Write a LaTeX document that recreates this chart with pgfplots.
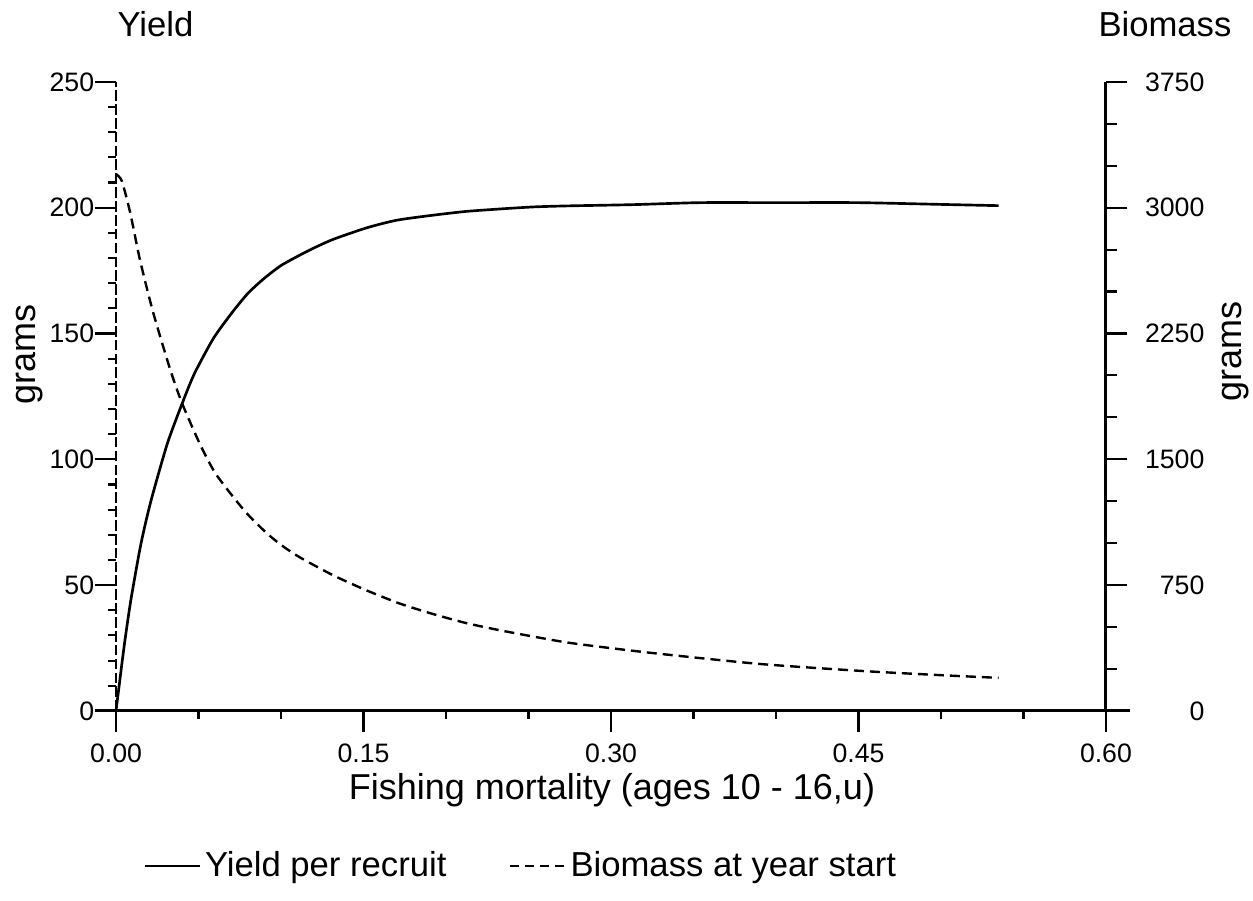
\documentclass[border=0pt]{standalone}
\usepackage{pgfplots}
\pgfplotsset{compat=1.18}
\usepackage{fontspec}
\setmainfont{Liberation Sans}

\pgfplotstableread{
F Y
0 0
0.005 26
0.009 44
0.015 66
0.021 83
0.031 106
0.040 122
0.0475 134
0.059 148
0.070 158
0.080 166
0.090 172
0.100 177
0.111 181
0.120 184
0.132 187.5
0.152 192
0.170 195
0.192 197
0.212 198.5
0.233 199.5
0.253 200.3
0.273 200.7
0.313 201.2
0.354 202
0.400 202
0.450 202
0.500 201.3
0.535 200.8
}\yieldtab

\pgfplotstableread{
F B
0 3200
0.0035 3160
0.0085 2975
0.0145 2690
0.0224 2380
0.0327 2040
0.040 1835
0.0509 1590
0.060 1420
0.0711 1275
0.080 1170
0.0913 1060
0.1007 985
0.1115 915
0.1317 808
0.152 718
0.172 640
0.192 578
0.2125 523
0.233 480
0.253 443
0.272 410
0.291 385
0.327 343
0.390 280
0.454 237
0.500 213
0.535 197
}\biotab

\begin{document}
\begin{tikzpicture}
\useasboundingbox (-43.5pt,-71.25pt) rectangle (426.4pt,266.6pt);
\begin{axis}[
  at={(0pt,0pt)}, anchor=south west,
  scale only axis, width=371.25pt, height=235.9pt,
  xmin=0, xmax=0.6, ymin=0, ymax=250,
  axis x line*=bottom, axis y line*=left,
  x axis line style={-, line width=1.1pt, shorten <=-8pt, shorten >=-9pt},
  y axis line style={-, line width=0.7pt, dash pattern=on 4pt off 1.2pt},
  xtick={0,0.15,0.3,0.45,0.6},
  xticklabels={0.00,0.15,0.30,0.45,0.60},
  minor x tick num=2,
  ytick={0,50,...,250},
  minor y tick num=4,
  tick align=outside,
  major tick length=8pt, minor tick length=3pt,
  every tick/.style={black, line width=0.8pt},
  tick label style={font=\fontsize{10}{12}\selectfont},
  yticklabel style={inner xsep=0pt},
  xticklabel style={yshift=-1pt},
  /pgf/number format/assume math mode=true,
  /pgf/number format/1000 sep={},
  legend columns=2,
  legend style={at={(0.0272,-0.2464)}, anchor=west, draw=none, fill=none,
    inner sep=0pt, font=\fontsize{13}{15}\selectfont,
    nodes={inner sep=1.5pt},
    /tikz/every even column/.append style={column sep=22pt}},
  legend cell align=left,
  legend image code/.code={\draw[#1] (0pt,0pt) -- (20.6pt,0pt);},
]
\addplot[black, line width=1pt, smooth, tension=0.4] table[x=F, y=Y] {\yieldtab};
\addlegendentry{Yield per recruit}
\addlegendimage{black, line width=0.9pt, dash pattern=on 3.4pt off 2.2pt}
\addlegendentry{Biomass at year start}
\end{axis}
\begin{axis}[
  at={(0pt,0pt)}, anchor=south west,
  scale only axis, width=371.25pt, height=235.9pt,
  xmin=0, xmax=0.6, ymin=0, ymax=3750,
  axis x line=none, axis y line*=right,
  y axis line style={-, line width=1.1pt},
  ytick={0,750,...,3750},
  minor y tick num=2,
  tick align=outside,
  major tick length=8pt, minor tick length=4pt,
  every tick/.style={black, line width=0.8pt},
  tick label style={font=\fontsize{10}{12}\selectfont},
  yticklabel style={anchor=east, inner xsep=0pt, xshift=29.1pt},
  /pgf/number format/assume math mode=true,
  /pgf/number format/1000 sep={},
]
\addplot[black, line width=0.9pt, dash pattern=on 3.75pt off 2.25pt, smooth, tension=0.4] table[x=F, y=B] {\biotab};
\end{axis}
\node[anchor=base west, font=\fontsize{13}{15}\selectfont, inner sep=0pt] at (0.4pt,252.75pt) {Yield};
\node[anchor=base east, font=\fontsize{13}{15}\selectfont, inner sep=0pt] at (418.5pt,252.75pt) {Biomass};
\node[rotate=90, font=\fontsize{13.5}{15}\selectfont, inner sep=0pt] at (-32.25pt,133.5pt) {grams};
\node[rotate=90, font=\fontsize{13.5}{15}\selectfont, inner sep=0pt] at (420pt,134.6pt) {grams};
\node[anchor=base, font=\fontsize{13.5}{15}\selectfont, inner sep=0pt] at (186pt,-33.4pt) {Fishing mortality (ages 10 - 16,u)};
\end{tikzpicture}
\end{document}
